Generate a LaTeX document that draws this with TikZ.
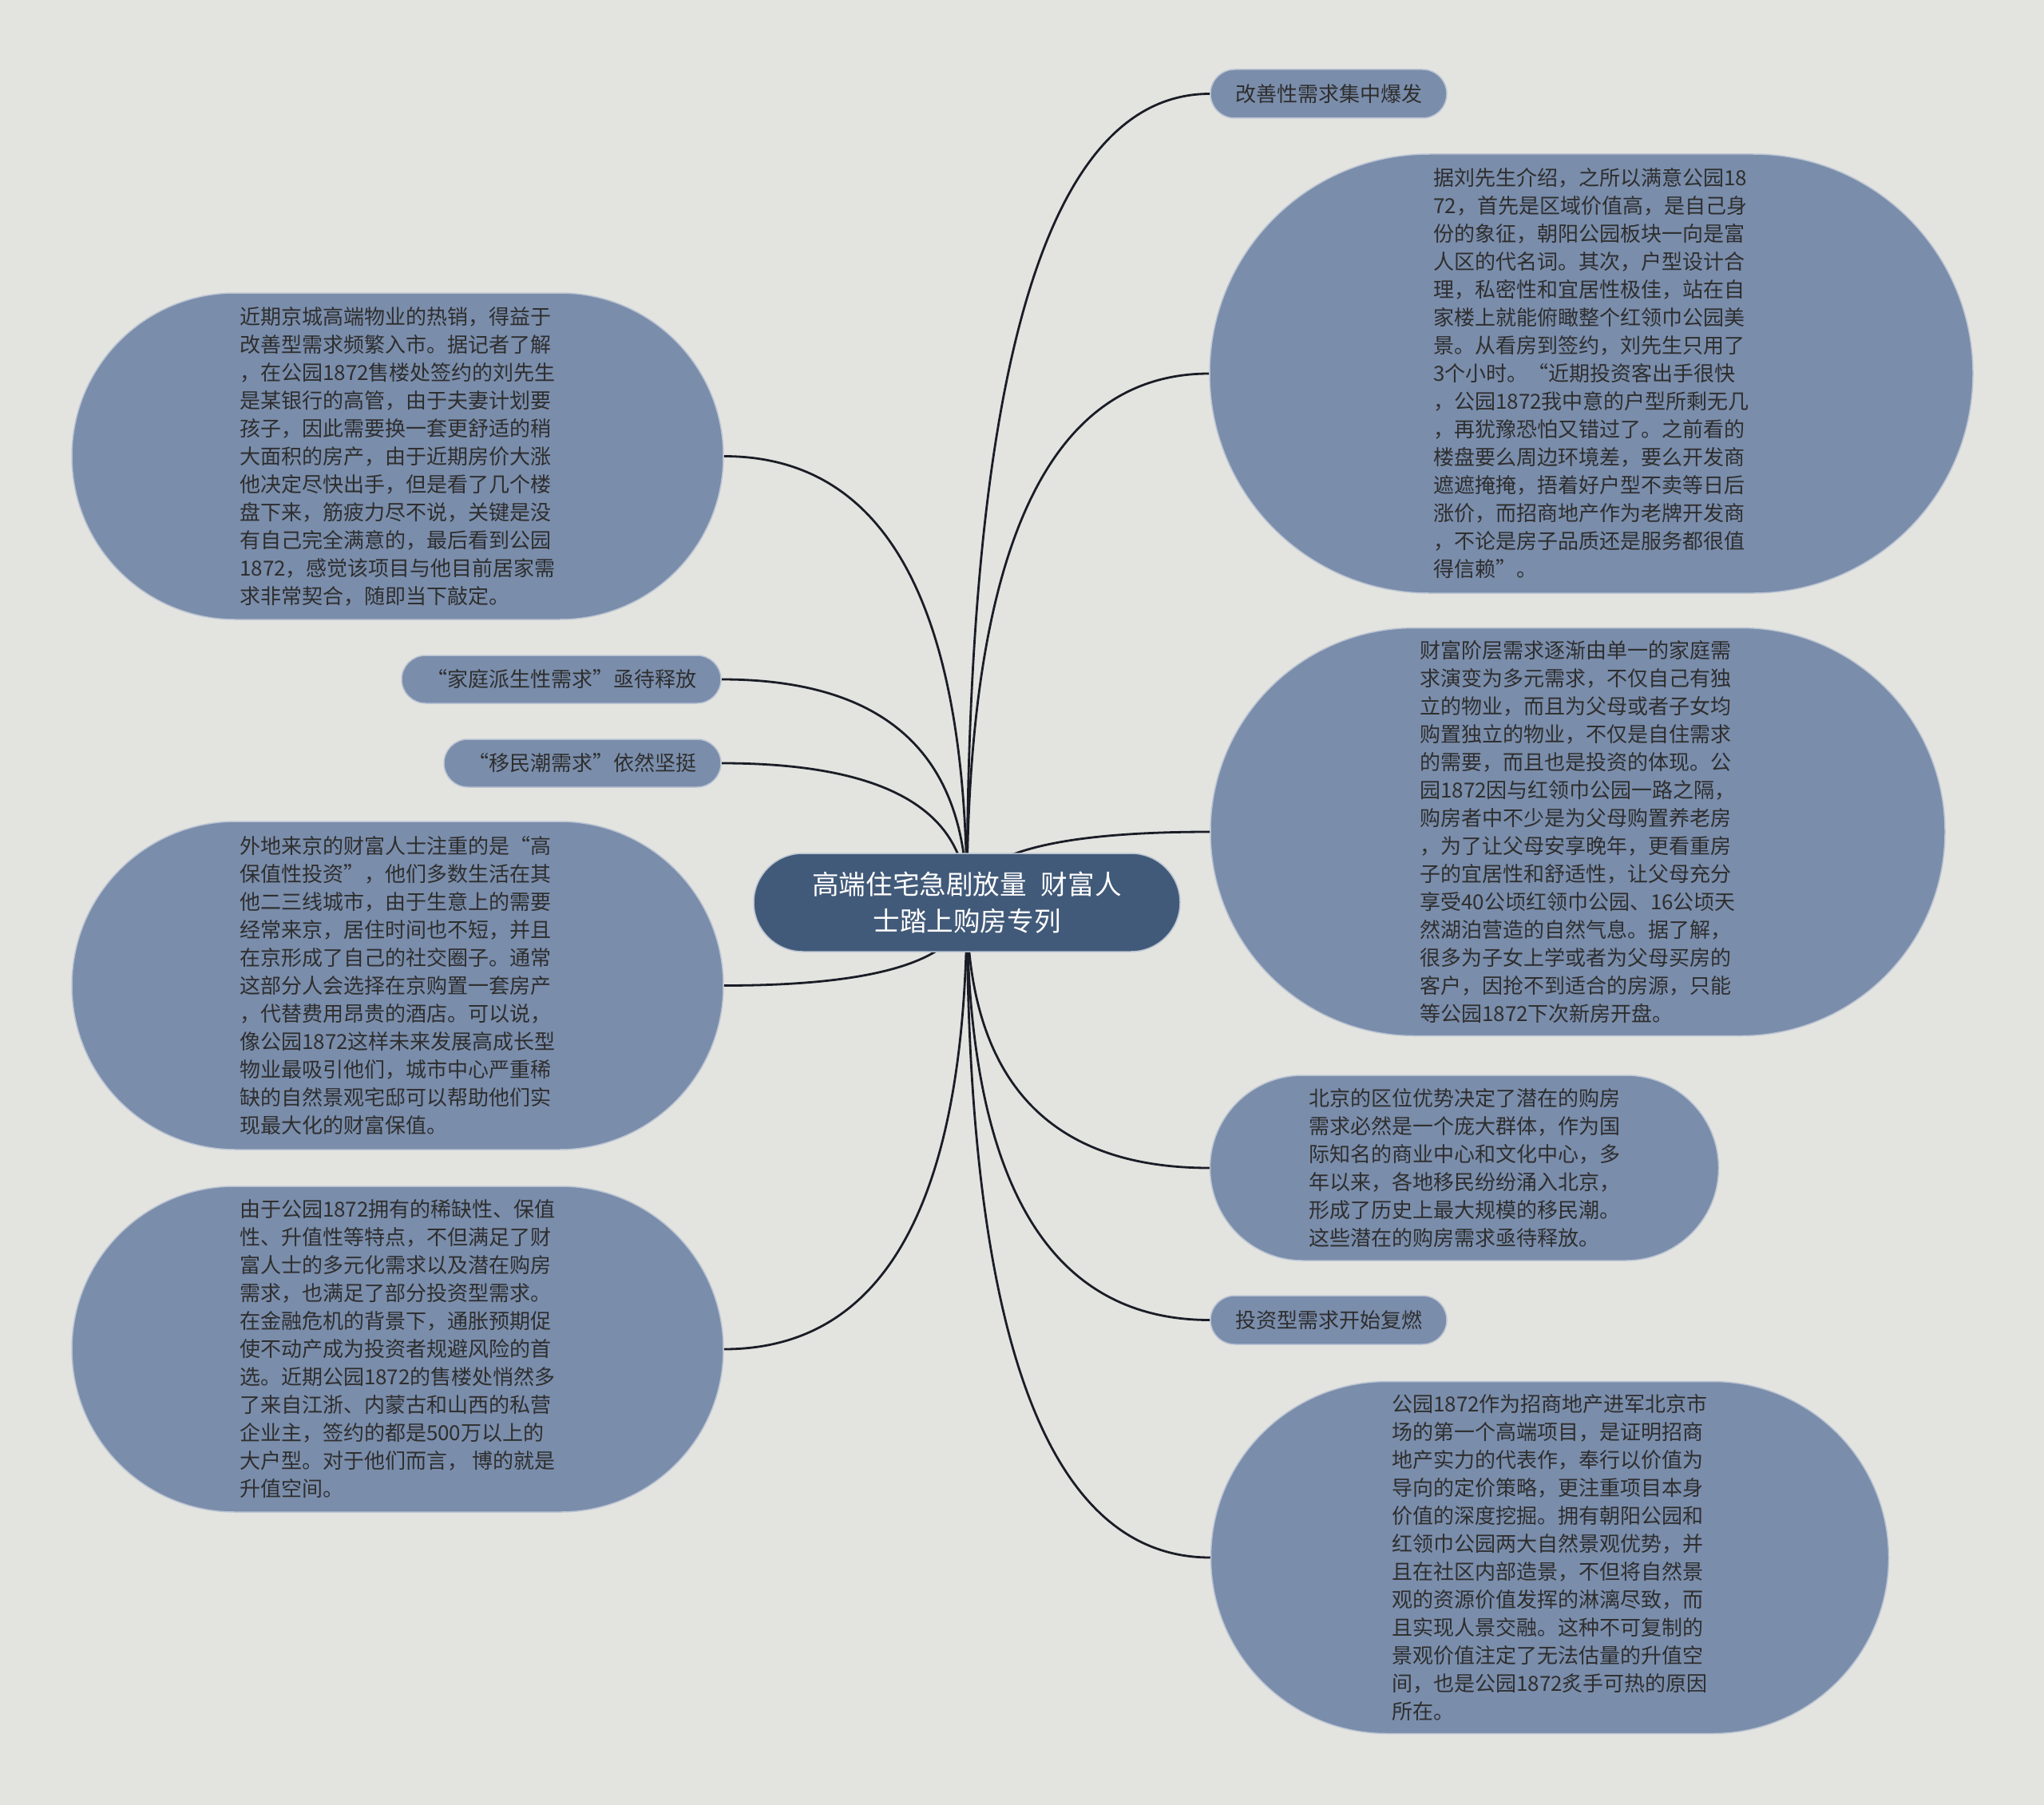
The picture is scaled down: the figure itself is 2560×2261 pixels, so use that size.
\documentclass[tikz,border=0pt]{standalone}
\usepackage{fontspec}
\setmainfont{Noto Sans CJK SC}
\usetikzlibrary{calc,backgrounds}
\definecolor{bgc}{HTML}{E3E4E0}
\definecolor{nodefill}{HTML}{7A8DAB}
\definecolor{rootfill}{HTML}{425A79}
\definecolor{txt}{HTML}{2E2E2E}
\definecolor{edgec}{HTML}{BBC4D2}
\definecolor{linec}{HTML}{1A1D26}
\tikzset{
  topic/.style 2 args={draw=edgec, line width=1.5pt, fill=nodefill, text=txt,
    minimum width=#1, minimum height=#2, rounded corners=#2/2, inner sep=0pt,
    align=left, font=\fontsize{26}{35}\selectfont},
  roottopic/.style={draw=edgec, line width=1.5pt, fill=rootfill, text=white,
    minimum width=534pt, minimum height=123pt, rounded corners=61.5pt, inner sep=0pt,
    align=center, font=\fontsize{33.6}{45.7}\selectfont},
  conn/.style={draw=linec, line width=2.8pt}
}
\newcommand\mmlink[2]{\draw[conn] (root.center) .. controls ($(root.center)!0.6667!(root.center|-#1.#2)$) and ($(#1.#2)!0.6667!(root.center|-#1.#2)$) .. (#1.#2);}
\begin{document}
\begin{tikzpicture}[x=1pt,y=-1pt]
\useasboundingbox (0,0) rectangle (2560,2261);
% root
\node[roottopic] (root) at (1211,1130.5) {高端住宅急剧放量\hspace{18pt}财富人\\士踏上购房专列};
% right side
\node[topic={296pt}{61pt}, align=center] (r1) at (1664,117.5) {改善性需求集中爆发};
\node[topic={956pt}{550pt}] (r2) at (1993,468) {据刘先生介绍，之所以满意公园18\\72，首先是区域价值高，是自己身\\份的象征，朝阳公园板块一向是富\\人区的代名词。其次，户型设计合\\理，私密性和宜居性极佳，站在自\\家楼上就能俯瞰整个红领巾公园美\\景。从看房到签约，刘先生只用了\\3个小时。“近期投资客出手很快\\，公园1872我中意的户型所剩无几\\，再犹豫恐怕又错过了。之前看的\\楼盘要么周边环境差，要么开发商\\遮遮掩掩，捂着好户型不卖等日后\\涨价，而招商地产作为老牌开发商\\，不论是房子品质还是服务都很值\\得信赖”。};
\node[topic={920pt}{511pt}] (r3) at (1976,1042) {财富阶层需求逐渐由单一的家庭需\\求演变为多元需求，不仅自己有独\\立的物业，而且为父母或者子女均\\购置独立的物业，不仅是自住需求\\的需要，而且也是投资的体现。公\\园1872因与红领巾公园一路之隔，\\购房者中不少是为父母购置养老房\\，为了让父母安享晚年，更看重房\\子的宜居性和舒适性，让父母充分\\享受40公顷红领巾公园、16公顷天\\然湖泊营造的自然气息。据了解，\\很多为子女上学或者为父母买房的\\客户，因抢不到适合的房源，只能\\等公园1872下次新房开盘。};
\node[topic={637pt}{232pt}] (r4) at (1834,1463) {北京的区位优势决定了潜在的购房\\需求必然是一个庞大群体，作为国\\际知名的商业中心和文化中心，多\\年以来，各地移民纷纷涌入北京，\\形成了历史上最大规模的移民潮。\\这些潜在的购房需求亟待释放。};
\node[topic={296pt}{61pt}, align=center] (r5) at (1664,1653.5) {投资型需求开始复燃};
\node[topic={849pt}{441pt}] (r6) at (1941,1951) {公园1872作为招商地产进军北京市\\场的第一个高端项目，是证明招商\\地产实力的代表作，奉行以价值为\\导向的定价策略，更注重项目本身\\价值的深度挖掘。拥有朝阳公园和\\红领巾公园两大自然景观优势，并\\且在社区内部造景，不但将自然景\\观的资源价值发挥的淋漓尽致，而\\且实现人景交融。这种不可复制的\\景观价值注定了无法估量的升值空\\间，也是公园1872炙手可热的原因\\所在。};
% left side
\node[topic={816pt}{409pt}] (l1) at (498,571.5) {近期京城高端物业的热销，得益于\\改善型需求频繁入市。据记者了解\\，在公园1872售楼处签约的刘先生\\是某银行的高管，由于夫妻计划要\\孩子，因此需要换一套更舒适的稍\\大面积的房产，由于近期房价大涨\\他决定尽快出手，但是看了几个楼\\盘下来，筋疲力尽不说，关键是没\\有自己完全满意的，最后看到公园\\1872，感觉该项目与他目前居家需\\求非常契合，随即当下敲定。};
\node[topic={400pt}{60pt}, align=center] (l2) at (703,851) {“家庭派生性需求”亟待释放};
\node[topic={347pt}{60pt}, align=center] (l3) at (729.5,956) {“移民潮需求”依然坚挺};
\node[topic={816pt}{411pt}] (l4) at (498,1234.5) {外地来京的财富人士注重的是“高\\保值性投资”，他们多数生活在其\\他二三线城市，由于生意上的需要\\经常来京，居住时间也不短，并且\\在京形成了自己的社交圈子。通常\\这部分人会选择在京购置一套房产\\，代替费用昂贵的酒店。可以说，\\像公园1872这样未来发展高成长型\\物业最吸引他们，城市中心严重稀\\缺的自然景观宅邸可以帮助他们实\\现最大化的财富保值。};
\node[topic={816pt}{408pt}] (l5) at (498,1690) {由于公园1872拥有的稀缺性、保值\\性、升值性等特点，不但满足了财\\富人士的多元化需求以及潜在购房\\需求，也满足了部分投资型需求。\\在金融危机的背景下，通胀预期促\\使不动产成为投资者规避风险的首\\选。近期公园1872的售楼处悄然多\\了来自江浙、内蒙古和山西的私营\\企业主，签约的都是500万以上的\\大户型。对于他们而言， 博的就是\\升值空间。};
% background and connectors
\begin{scope}[on background layer]
\fill[bgc] (0,0) rectangle (2560,2261);
\mmlink{r1}{west}
\mmlink{r2}{west}
\mmlink{r3}{west}
\mmlink{r4}{west}
\mmlink{r5}{west}
\mmlink{r6}{west}
\mmlink{l1}{east}
\mmlink{l2}{east}
\mmlink{l3}{east}
\mmlink{l4}{east}
\mmlink{l5}{east}
\end{scope}
\end{tikzpicture}
\end{document}
